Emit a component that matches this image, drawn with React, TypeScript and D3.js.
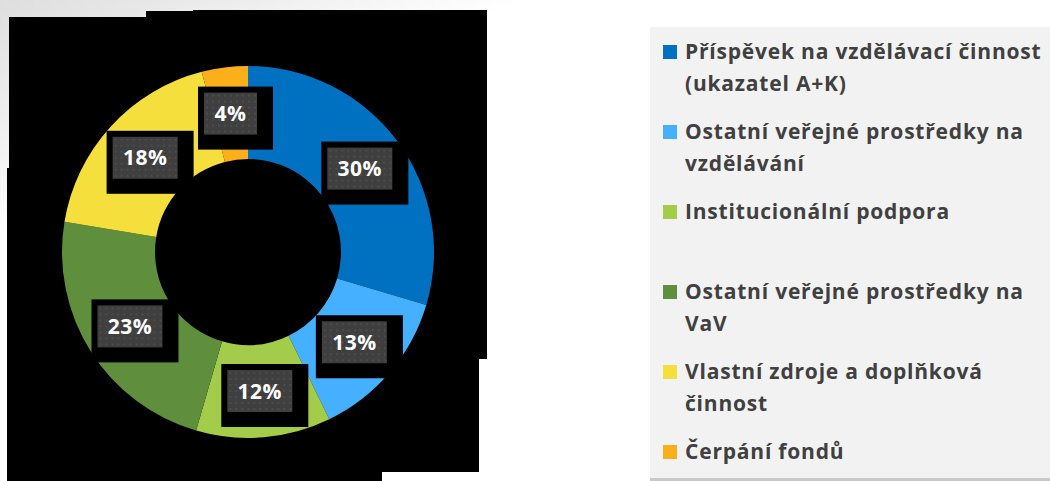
import * as d3 from "d3";

// funding sources (share of total, %)
const categories = [
  "Příspěvek na vzdělávací činnost (ukazatel A+K)",
  "Ostatní veřejné prostředky na vzdělávání",
  "Institucionální podpora",
  "Ostatní veřejné prostředky na VaV",
  "Vlastní zdroje a doplňková činnost",
  "Čerpání fondů",
];
const legendLines = [
  ["Příspěvek na vzdělávací činnost", "(ukazatel A+K)"],
  ["Ostatní veřejné prostředky na", "vzdělávání"],
  ["Institucionální podpora"],
  ["Ostatní veřejné prostředky na", "VaV"],
  ["Vlastní zdroje a doplňková", "činnost"],
  ["Čerpání fondů"],
];
const values = [29.6, 13.2, 11.7, 23.1, 18.4, 4.0];
const colors = ["#0070c0", "#44b0ff", "#a3cc4a", "#5f8f3d", "#f4df3d", "#fbb01b"];

const W = 1050;
const H = 481;
const cx = 248;
const cy = 252;
const rOuter = 186;
const rInner = 93;

// the black backdrop behind the donut (not rectangular in the source)
const backdrop = [
  [9, 17, 478, 342],
  [146, 11, 47, 10],
  [193, 10, 294, 10],
  [7, 168, 472, 304],
  [7, 168, 375, 313],
];

export default function App() {
  const pie = d3
    .pie<number>()
    .sort(null)
    .value((d) => d);
  const arcs = pie(values);
  const arc = d3
    .arc<d3.PieArcDatum<number>>()
    .innerRadius(rInner)
    .outerRadius(rOuter);

  const total = d3.sum(values);
  const legendY = d3
    .scalePoint<number>()
    .domain(d3.range(categories.length))
    .range([52, 452]);

  return (
    <svg
      width={W}
      height={H}
      style={{ position: "absolute", left: 0, top: 0 }}
      fontFamily="'Open Sans', Lato, sans-serif"
    >
      <defs>
        <linearGradient id="bg" x1="0" y1="0" x2="1" y2="1">
          <stop offset="0" stopColor="#dedede" />
          <stop offset="0.25" stopColor="#ffffff" />
          <stop offset="0.8" stopColor="#ffffff" />
          <stop offset="1" stopColor="#f2f2f2" />
        </linearGradient>
        <pattern id="dots" width="6" height="6" patternUnits="userSpaceOnUse">
          <rect width="6" height="6" fill="#3f3f3f" />
          <rect x="2" y="2" width="2" height="2" fill="#4c4c4c" />
        </pattern>
      </defs>

      <rect width={W} height={H} fill="url(#bg)" />
      {backdrop.map(([x, y, w, h], i) => (
        <rect key={i} x={x} y={y} width={w} height={h} fill="#000" />
      ))}

      <g transform={`translate(${cx},${cy})`}>
        {arcs.map((a, i) => (
          <path key={i} d={arc(a) ?? ""} fill={colors[i]} />
        ))}
        {arcs.map((a, i) => {
          const [x, y] = arc.centroid(a);
          const txt = `${Math.round((a.data / total) * 100)}%`;
          const w = 29 + 12 * txt.length;
          const h = 42;
          return (
            <g key={i} transform={`translate(${x - w / 2},${y - h / 2})`}>
              <rect x={-6} y={-6} width={w + 22} height={h + 21} fill="#000" />
              <rect width={w} height={h} fill="url(#dots)" />
              <text
                x={w / 2}
                y={h / 2}
                dy="0.36em"
                textAnchor="middle"
                fill="#fff"
                fontWeight="bold"
                fontSize={21}
                letterSpacing={0.5}
              >
                {txt}
              </text>
            </g>
          );
        })}
      </g>

      {/* legend */}
      <rect x={650} y={27} width={400} height={451} fill="#f2f2f2" />
      <rect x={650} y={478} width={400} height={3} fill="#c8c8c8" />
      {legendLines.map((lines, i) => {
        const y0 = legendY(i) ?? 0;
        return (
          <g key={i}>
            <rect x={663} y={y0 - 7} width={14} height={14} fill={colors[i]} />
            {lines.map((ln, j) => (
              <text
                key={j}
                x={685}
                y={y0 + j * 32}
                dy="0.35em"
                fill="#404040"
                fontWeight="bold"
                fontSize={21}
                letterSpacing={0.8}
              >
                {ln}
              </text>
            ))}
          </g>
        );
      })}
    </svg>
  );
}
